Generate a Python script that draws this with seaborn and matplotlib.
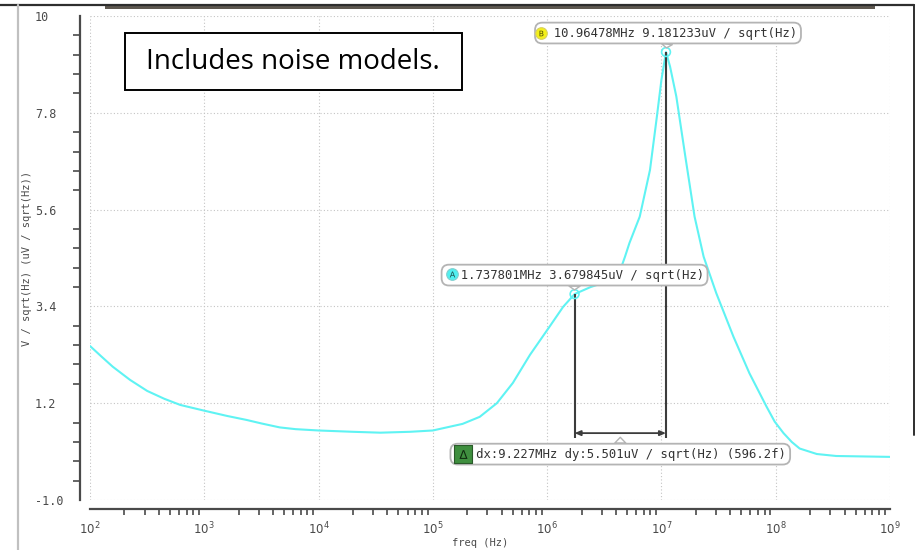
import numpy as np
import pandas as pd
import matplotlib
matplotlib.use("Agg")
import matplotlib.pyplot as plt
import seaborn as sns
from matplotlib.lines import Line2D
from matplotlib.patches import Rectangle
from matplotlib.ticker import FixedLocator, LogLocator, NullFormatter

# Output noise spectral density (uV / sqrt(Hz)) versus frequency (Hz)
freq = [1e2, 1.26e2, 1.58e2, 2.24e2, 3.16e2, 4.47e2, 6.17e2, 1e3, 1.585e3,
        2.34e3, 3.16e3, 4.57e3, 6.3e3, 1e4, 2e4, 3.47e4, 6.3e4, 1e5, 1.82e5,
        2.57e5, 3.63e5, 5.01e5, 7.08e5, 1.05e6, 1.38e6, 1.737801e6, 2.4e6,
        3.31e6, 3.8e6, 4.37e6, 4.8e6, 5.25e6, 6.46e6, 7.94e6, 9.12e6, 1.0e7,
        1.096478e7, 1.19e7, 1.35e7, 1.62e7, 1.95e7, 2.34e7, 3.02e7, 4.27e7,
        5.89e7, 8.32e7, 9.8e7, 1.17e8, 1.38e8, 1.62e8, 2.29e8, 3.39e8, 1e9]
noise = [2.50, 2.26, 2.03, 1.73, 1.48, 1.30, 1.16, 1.03, 0.91,
         0.82, 0.74, 0.65, 0.61, 0.58, 0.55, 0.53, 0.55, 0.58, 0.73,
         0.89, 1.20, 1.66, 2.30, 2.94, 3.39, 3.679845, 3.84,
         3.96, 4.08, 4.23, 4.53, 4.84, 5.44, 6.50, 7.71, 8.55,
         9.181233, 8.85, 8.17, 6.80, 5.44, 4.53, 3.70, 2.71,
         1.88, 1.12, 0.78, 0.52, 0.32, 0.17, 0.045, 0.0, -0.02]

y_ticks = [-1.0, 1.2, 3.4, 5.6, 7.8, 10.0]
y_tick_labels = ["-1.0", "1.2", "3.4", "5.6", "7.8", "10"]
x_ticks = [1e2, 1e3, 1e4, 1e5, 1e6, 1e7, 1e8, 1e9]
x_tick_labels = [r"$10^{%d}$" % p for p in range(2, 10)]

# Cursor readouts
marker_a = (1.737801e6, 3.679845)
marker_b = (1.096478e7, 9.181233)
label_a = "1.737801MHz 3.679845uV / sqrt(Hz)"
label_b = "10.96478MHz 9.181233uV / sqrt(Hz)"
label_delta = "dx:9.227MHz dy:5.501uV / sqrt(Hz) (596.2f)"
delta_level = 0.52
drop_bottom = 0.42

sns.set_style("white")
plt.rcParams["font.family"] = ["DejaVu Sans Mono", "DejaVu Sans"]
plt.rcParams["mathtext.fontset"] = "dejavusans"

W, H = 917, 550
fig = plt.figure(figsize=(W / 100, H / 100), dpi=100)
ax = fig.add_axes([90 / W, 50 / H, 800 / W, 484 / H])

df = pd.DataFrame({"freq": freq, "noise": noise})
ax.set_xscale("log")
sns.lineplot(data=df, x="freq", y="noise", ax=ax, color="#5ff3f3", lw=1.5,
             zorder=3)

ax.set_xlim(1e2, 1e9)
ax.set_ylim(-1.0, 10.0)

axis_col = "#4a4a4a"
text_col = "#4a4a4a"
for s in ["top", "right"]:
    ax.spines[s].set_visible(False)
ax.spines["left"].set_position(("outward", 7.2))
ax.spines["bottom"].set_position(("outward", 6.5))
for s in ["left", "bottom"]:
    ax.spines[s].set_color(axis_col)
    ax.spines[s].set_linewidth(1.6)

# y axis ticks
ax.yaxis.set_major_locator(FixedLocator(y_ticks))
ax.set_yticklabels(y_tick_labels)
ax.yaxis.set_minor_locator(FixedLocator(
    [a + (b - a) * k / 5 for a, b in zip(y_ticks[:-1], y_ticks[1:]) for k in range(1, 5)]))
ax.tick_params(axis="y", which="major", direction="out", length=6.5, width=1.2,
               color=axis_col, labelsize=8.5, labelcolor=text_col, pad=26)
ax.tick_params(axis="y", which="minor", direction="out", length=5, width=1.2,
               color=axis_col, left=True)
for lab in ax.get_yticklabels():
    lab.set_horizontalalignment("left")

# x axis ticks
ax.xaxis.set_major_locator(FixedLocator(x_ticks))
ax.set_xticklabels(x_tick_labels)
ax.xaxis.set_minor_locator(LogLocator(base=10, subs=np.arange(2, 10), numticks=100))
ax.xaxis.set_minor_formatter(NullFormatter())
ax.tick_params(axis="x", which="major", direction="out", length=5.5, width=1.2,
               color=axis_col, labelsize=8.5, labelcolor=text_col, pad=3)
ax.tick_params(axis="x", which="minor", direction="out", length=4, width=1.2,
               color=axis_col, bottom=True)

ax.grid(True, which="major", linestyle=(0, (1, 2)), color="#c4c4c4", lw=0.8)

ax.set_xlabel("freq (Hz)", fontsize=7.5, color=text_col)
ax.xaxis.set_label_coords(0.4875, -0.088)
ax.xaxis.label.set_verticalalignment("center")
ax.set_ylabel("V / sqrt(Hz) (uV / sqrt(Hz))", fontsize=7.5, color=text_col)
ax.yaxis.set_label_coords(-0.079, 0.5)
ax.yaxis.label.set_verticalalignment("center")

# cursor drop lines and delta measurement
line_col = "#3c3c3c"
ax.vlines([marker_a[0], marker_b[0]], drop_bottom, [marker_a[1], marker_b[1]],
          color=line_col, lw=1.5, zorder=4)
ax.annotate("", xy=(marker_a[0], delta_level), xytext=(marker_b[0], delta_level),
            arrowprops=dict(arrowstyle="<|-|>,head_length=0.35,head_width=0.15",
                            color=line_col, lw=1.3, shrinkA=0, shrinkB=0),
            zorder=4)
ax.scatter([marker_a[0], marker_b[0]], [marker_a[1], marker_b[1]], s=40,
           facecolors="none", edgecolors="#5ff3f3", linewidths=1.2, zorder=5)

box_style = dict(boxstyle="round,pad=0.32,rounding_size=0.6", fc="white",
                 ec="#b4b4b4", lw=1.3)
wedge = dict(arrowstyle="wedge,tail_width=0.9,shrink_factor=0.5", fc="white",
             ec="#b4b4b4", lw=1.0, shrinkA=0, shrinkB=3)
fs = 8.8

ax.annotate("  " + label_a, xy=marker_a, xytext=(0, 19),
            textcoords="offset pixels", ha="center", va="center", fontsize=fs,
            color="#333333", bbox=box_style, arrowprops=wedge, zorder=6)
ax.annotate("  " + label_b, xy=marker_b, xytext=(2, 19),
            textcoords="offset pixels", ha="center", va="center", fontsize=fs,
            color="#333333", bbox=box_style, arrowprops=wedge, zorder=6)
mid_x = float(np.sqrt(marker_a[0] * marker_b[0]))
ax.annotate("   " + label_delta, xy=(mid_x, delta_level), xytext=(0, -21),
            textcoords="offset pixels", ha="center", va="center", fontsize=fs,
            color="#333333", bbox=box_style, arrowprops=wedge, zorder=6)


def pixel_point(x, y, dx, dy):
    """Data point shifted by (dx, dy) pixels (dy up)."""
    px, py = ax.transData.transform((x, y))
    return ax.transData.inverted().transform((px + dx, py + dy))


# cursor badges drawn as markers inside the readout boxes
ia = pixel_point(*marker_a, -123, 20)
ib = pixel_point(*marker_b, -125, 19)
idl = pixel_point(mid_x, delta_level, -157, -21)
ax.scatter([ia[0]], [ia[1]], s=70, marker="o", fc="#4ff0f0", ec="#7fcfcf",
           lw=0.8, zorder=7)
ax.scatter([ia[0]], [ia[1]], s=18, marker="$\\mathrm{A}$", c="#1f4f4f", lw=0,
           zorder=8)
ax.scatter([ib[0]], [ib[1]], s=70, marker="o", fc="#f4f01a", ec="#d8d060",
           lw=0.8, zorder=7)
ax.scatter([ib[0]], [ib[1]], s=16, marker="$\\mathrm{B}$", c="#4a4a00", lw=0,
           zorder=8)
ax.scatter([idl[0]], [idl[1]], s=150, marker="s", fc="#3f8f3f", ec="#2a5a2a",
           lw=0.8, zorder=7)
ax.scatter([idl[0]], [idl[1]], s=40, marker="$\\Delta$", c="#0e2a0e", lw=0,
           zorder=8)

# caption box
fig.add_artist(Rectangle((125 / W, 1 - 90 / H), 337 / W, 57 / H,
                         transform=fig.transFigure, fc="white", ec="black",
                         lw=1.4, zorder=10))
fig.text(293 / W, 1 - 62 / H, "Includes noise models.", ha="center",
         va="center", fontsize=20, family="Open Sans", color="black", zorder=11)

# window frame
fig.add_artist(Line2D([0, 914 / W], [1 - 4.5 / H, 1 - 4.5 / H],
                      transform=fig.transFigure, color="#2e2e2e", lw=1.6))
fig.add_artist(Rectangle((105 / W, 1 - 8.5 / H), 770 / W, 4 / H,
                         transform=fig.transFigure, fc="#5e5850", ec="none"))
fig.add_artist(Line2D([914 / W, 914 / W], [1 - 4.5 / H, 1 - 435 / H],
                      transform=fig.transFigure, color="#2e2e2e", lw=1.4))
fig.add_artist(Line2D([17.5 / W, 17.5 / W], [0, 1 - 5 / H],
                      transform=fig.transFigure, color="#c0c0c0", lw=1.6))

fig.savefig("out.png", dpi=100)
